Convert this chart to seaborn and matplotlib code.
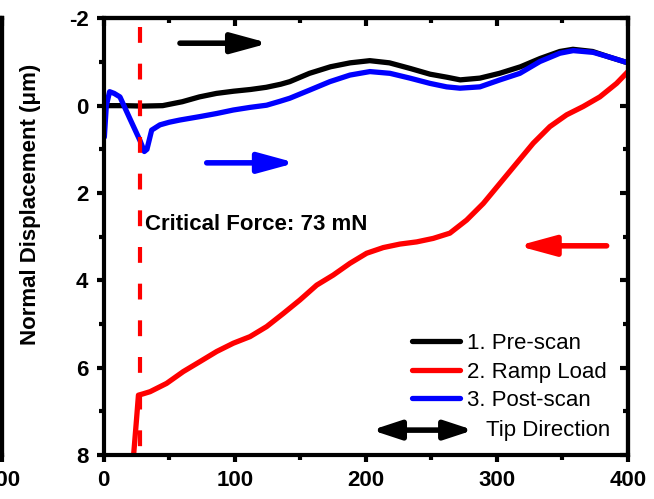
import matplotlib
matplotlib.use("Agg")
import matplotlib.pyplot as plt
import seaborn as sns
from matplotlib.ticker import MultipleLocator

sns.set_style("ticks")
plt.rcParams["font.family"] = ["Liberation Sans", "DejaVu Sans"]
plt.rcParams["axes.unicode_minus"] = False
plt.rcParams["text.color"] = "black"
plt.rcParams["axes.labelcolor"] = "black"
plt.rcParams["xtick.color"] = "black"
plt.rcParams["ytick.color"] = "black"

# Scan position (um) and normal displacement (um) for each pass
pre_x = [0, 15, 30, 45, 60, 73, 86, 99, 112, 124, 135, 142, 157, 173, 188,
         203, 218, 234, 249, 262, 272, 287, 302, 318, 333, 348, 358, 373,
         386, 400]
pre_y = [0.0, 0.0, 0.01, 0.0, -0.09, -0.2, -0.28, -0.33, -0.37, -0.42,
         -0.49, -0.55, -0.74, -0.89, -0.98, -1.03, -0.98, -0.85, -0.72,
         -0.65, -0.59, -0.63, -0.74, -0.89, -1.08, -1.24, -1.29, -1.24,
         -1.11, -0.98]

ramp_x = [22, 25, 26.5, 30, 35.4, 48, 60.7, 73.5, 86.2, 98.9, 111.6, 124.3,
          137, 149.7, 162.5, 175.1, 187.9, 200.6, 213.3, 226, 238.8, 251.4,
          264.1, 276.9, 289.6, 302.3, 315, 327.7, 340.4, 353.2, 365.8, 378.5,
          391.3, 400]
ramp_y = [8.3, 7.2, 6.63, 6.6, 6.55, 6.36, 6.09, 5.86, 5.63, 5.44, 5.29,
          5.06, 4.76, 4.45, 4.11, 3.88, 3.61, 3.38, 3.25, 3.17, 3.12, 3.04,
          2.92, 2.62, 2.24, 1.78, 1.32, 0.86, 0.48, 0.21, 0.02, -0.2, -0.51,
          -0.78]

post_x = [0.5, 2, 4.5, 8, 12.4, 20, 27.7, 31.0, 33.0, 36.6, 42.9, 50, 58,
          73.5, 86.2, 98.9, 111.6, 124.3, 134.5, 142, 157.4, 172.6, 187.9,
          203.1, 218.4, 233.6, 248.9, 261.6, 271.8, 287, 302.3, 317.5, 332.8,
          348, 358.2, 373.4, 386.1, 400]
post_y = [0.72, 0.0, -0.32, -0.28, -0.2, 0.3, 0.8, 1.05, 1.0, 0.56, 0.44,
          0.38, 0.33, 0.25, 0.18, 0.1, 0.04, -0.01, -0.1, -0.17, -0.36, -0.55,
          -0.70, -0.78, -0.74, -0.63, -0.51, -0.43, -0.40, -0.43, -0.59,
          -0.74, -1.01, -1.2, -1.26, -1.22, -1.11, -0.98]

# Tail end of the neighbouring panel
prev_x = [385, 400]
prev_blue = [-1.1, -1.05]
prev_red = [-0.85, -0.95]

critical_x = 28
labels = ["1. Pre-scan", "2. Ramp Load", "3. Post-scan"]
colors = ["black", "#ff0000", "#0000ff"]
x_ticks = [0, 100, 200, 300, 400]
y_ticks = [-2, 0, 2, 4, 6, 8]
y_tick_labels = ["-2", "0", "2", "4", "6", "8"]

W, H = 654, 499
fig = plt.figure(figsize=(W / 100, H / 100), dpi=100)

L, R, T, B = 103.7, 628, 18.3, 455
pos = [L / W, 1 - B / H, (R - L) / W, (B - T) / H]
ax = fig.add_axes(pos)
ax0 = fig.add_axes([2 / W - pos[2], pos[1], pos[2], pos[3]])

LW = 3.8
SP = 3.0


def style_axes(a, show_ylabels=True):
    a.set_xlim(0, 400)
    a.set_ylim(8, -2)
    a.set_xticks(x_ticks)
    a.set_xticklabels([str(t) for t in x_ticks])
    a.set_yticks(y_ticks)
    a.set_yticklabels(y_tick_labels if show_ylabels else [])
    a.xaxis.set_minor_locator(MultipleLocator(50))
    a.yaxis.set_minor_locator(MultipleLocator(1))
    for s in a.spines.values():
        s.set_linewidth(SP)
        s.set_color("black")
    a.tick_params(which="both", direction="out", width=SP, top=False,
                  right=False, colors="black")
    a.tick_params(which="major", length=5, pad=6)
    a.tick_params(which="minor", length=3.5)
    for lab in a.get_xticklabels() + a.get_yticklabels():
        lab.set_fontsize(16)
        lab.set_fontweight("bold")
        lab.set_color("black")
    for side in ("top", "right"):
        if side == "top":
            sec = a.secondary_xaxis("top")
            sec.set_xticks(x_ticks)
            sec.xaxis.set_minor_locator(MultipleLocator(50))
            sec.tick_params(labeltop=False)
        else:
            sec = a.secondary_yaxis("right")
            sec.set_yticks(y_ticks)
            sec.yaxis.set_minor_locator(MultipleLocator(1))
            sec.tick_params(labelright=False)
        sec.tick_params(which="both", direction="in", width=SP,
                        colors="black")
        sec.tick_params(which="major", length=6)
        sec.tick_params(which="minor", length=3.5)
        for s in sec.spines.values():
            s.set_linewidth(SP)


style_axes(ax)
style_axes(ax0, show_ylabels=False)

sns.lineplot(x=prev_x, y=prev_red, ax=ax0, color=colors[1], lw=LW)
sns.lineplot(x=prev_x, y=prev_blue, ax=ax0, color=colors[2], lw=LW)

sns.lineplot(x=pre_x, y=pre_y, ax=ax, color=colors[0], lw=LW, label=labels[0],
             sort=False)
sns.lineplot(x=ramp_x, y=ramp_y, ax=ax, color=colors[1], lw=LW,
             label=labels[1], sort=False)
sns.lineplot(x=post_x, y=post_y, ax=ax, color=colors[2], lw=LW,
             label=labels[2], sort=False)

ax.plot([critical_x, critical_x], [-1.8, 8], color=colors[1], lw=3,
        dashes=(3.8, 5), solid_capstyle="butt")
ax.text(31.5, 2.73, "Critical Force: 73 mN", fontsize=16, fontweight="bold",
        va="center", ha="left", color="black")

ax.set_xlabel("")
ax.set_ylabel("Normal Displacement (\u03bcm)", fontsize=16, fontweight="bold",
              color="black")
ax.yaxis.set_label_coords(-0.12, 0.575)

head = "-|>,head_length=1.1,head_width=0.3"


def arrow(tail, tip, color, style=head):
    ax.annotate("", xy=tip, xytext=tail,
                arrowprops=dict(arrowstyle=style, color=color, lw=4,
                                mutation_scale=20, shrinkA=0, shrinkB=0))


arrow((58.2, -1.43), (126.0, -1.43), colors[0])
arrow((78.6, 1.31), (146.5, 1.31), colors[2])
arrow((383.7, 3.21), (316.0, 3.21), colors[1])
arrow((204.5, 7.43), (282.0, 7.43), colors[0],
      style="<|-|>,head_length=0.85,head_width=0.28")
ax.text(291.6, 7.43, "Tip Direction", fontsize=16, va="center", ha="left",
        color="black")

leg = ax.legend(loc="upper left", bbox_to_anchor=(411.7 / W, 1 - 333 / H),
                bbox_transform=fig.transFigure, frameon=False, fontsize=16,
                handlelength=2.16, handletextpad=0.32, labelspacing=0.34,
                borderpad=0, borderaxespad=0)
for h in leg.get_lines():
    h.set_linewidth(LW)
for t in leg.get_texts():
    t.set_color("black")

fig.savefig("out.png", dpi=100)
